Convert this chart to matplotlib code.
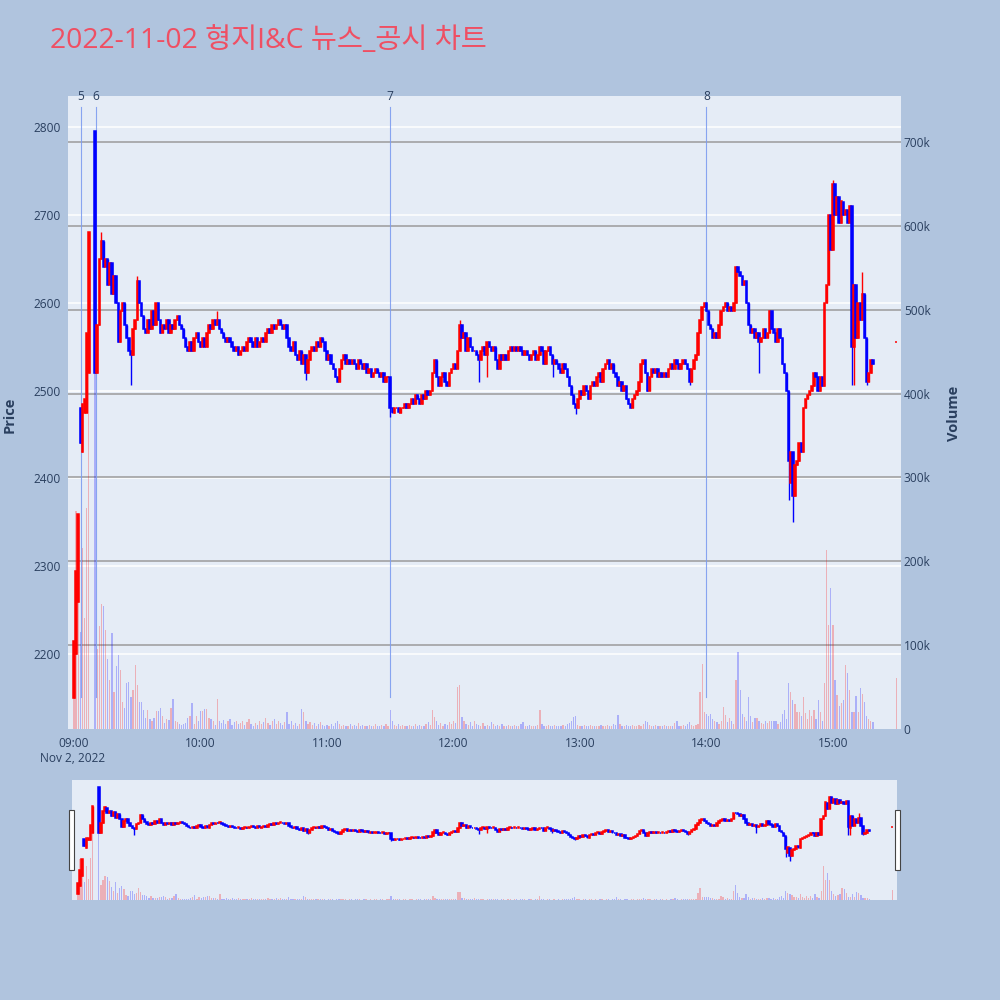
import numpy as np
import pandas as pd
import matplotlib
matplotlib.use("Agg")
import matplotlib.pyplot as plt
import matplotlib.dates as mdates
import matplotlib.transforms as mtransforms
from matplotlib.patches import Rectangle

# ---------------- data ----------------
title = "2022-11-02 형지I&C 뉴스_공시 차트"
session_start = "2022-11-02 09:00"

# per-minute closes 09:00 .. 15:19 (None = trading halt)
closes = [
    2215, 2295, 2360, 2440, 2485, 2490, 2565, 2680, None, None,
    2520, 2575, 2650, 2670, 2640, 2650, 2620, 2645, 2610, 2630,
    2600, 2555, 2590, 2600, 2575, 2560, 2545, 2540, 2570, 2580,
    2625, 2600, 2585, 2570, 2565, 2580, 2570, 2590, 2575, 2600,
    2580, 2565, 2575, 2570, 2580, 2565, 2575, 2570, 2580, 2585,
    2575, 2570, 2560, 2550, 2545, 2555, 2545, 2560, 2565, 2555,
    2550, 2560, 2550, 2565, 2575, 2570, 2580, 2575, 2580, 2570,
    2565, 2560, 2555, 2560, 2555, 2550, 2545, 2550, 2540, 2545,
    2550, 2545, 2555, 2560, 2555, 2550, 2560, 2550, 2555, 2560,
    2555, 2565, 2570, 2565, 2575, 2570, 2575, 2580, 2575, 2570,
    2575, 2560, 2550, 2545, 2555, 2540, 2535, 2545, 2530, 2540,
    2520, 2535, 2545, 2550, 2545, 2555, 2550, 2560, 2555, 2545,
    2535, 2540, 2530, 2525, 2515, 2510, 2525, 2535, 2540, 2530,
    2535, 2530, 2535, 2530, 2525, 2535, 2530, 2525, 2530, 2520,
    2525, 2515, 2520, 2525, 2520, 2515, 2520, 2510, 2515, 2515,
    2480, 2475, 2480, 2480, 2475, 2480, 2480, 2485, 2480, 2485,
    2490, 2485, 2495, 2490, 2485, 2495, 2490, 2500, 2495, 2500,
    2520, 2535, 2515, 2505, 2515, 2520, 2510, 2505, 2520, 2525,
    2530, 2525, 2545, 2575, 2560, 2565, 2545, 2560, 2550, 2545,
    2545, 2540, 2535, 2545, 2550, 2540, 2555, 2550, 2545, 2550,
    2535, 2525, 2540, 2535, 2540, 2535, 2545, 2550, 2545, 2550,
    2545, 2550, 2545, 2540, 2545, 2540, 2535, 2540, 2545, 2535,
    2540, 2550, 2545, 2530, 2545, 2550, 2540, 2530, 2535, 2530,
    2525, 2520, 2530, 2525, 2515, 2505, 2495, 2485, 2480, 2490,
    2500, 2495, 2505, 2500, 2490, 2505, 2510, 2505, 2515, 2520,
    2510, 2525, 2530, 2535, 2525, 2530, 2520, 2515, 2505, 2510,
    2500, 2505, 2490, 2485, 2480, 2490, 2495, 2500, 2510, 2530,
    2535, 2520, 2500, 2515, 2525, 2520, 2525, 2515, 2520, 2515,
    2520, 2515, 2525, 2530, 2525, 2535, 2530, 2525, 2530, 2535,
    2530, 2525, 2510, 2525, 2535, 2540, 2565, 2580, 2595, 2600,
    2590, 2575, 2570, 2560, 2565, 2560, 2575, 2590, 2595, 2600,
    2590, 2595, 2590, 2600, 2640, 2635, 2630, 2620, 2625, 2600,
    2575, 2565, 2570, 2560, 2565, 2555, 2560, 2570, 2560, 2565,
    2590, 2570, 2565, 2555, 2570, 2560, 2530, 2520, 2500, 2420,
    2430, 2380, 2415, 2420, 2440, 2430, 2480, 2490, 2495, 2500,
    2505, 2520, 2515, 2500, 2515, 2505, 2600, 2620, 2700, 2660,
    2735, 2700, 2720, 2690, 2715, 2700, 2705, 2690, 2710, 2550,
    2620, 2560, 2600, 2580, 2610, 2560, 2510, 2520, 2535, 2530,
]

# per-minute volume in thousands of shares
volumes_k = [
    100, 260, 150, 116, 216, 132, 263, 486, 0, 0,
    432, 95, 123, 149, 147, 118, 83, 58, 114, 44,
    75, 88, 70, 32, 25, 55, 56, 38, 46, 76,
    53, 32, 32, 23, 13, 23, 12, 10, 13, 21,
    21, 25, 16, 7, 12, 11, 25, 36, 10, 8,
    6, 5, 6, 7, 13, 16, 31, 6, 16, 10,
    21, 22, 24, 24, 13, 12, 10, 5, 36, 9,
    7, 11, 6, 9, 12, 5, 8, 10, 6, 7,
    9, 5, 8, 12, 6, 4, 7, 5, 9, 6,
    8, 13, 7, 5, 9, 12, 6, 10, 7, 5,
    8, 20, 6, 9, 5, 7, 4, 6, 24, 20,
    9, 6, 8, 5, 7, 4, 6, 8, 5, 3,
    5, 4, 6, 3, 7, 9, 6, 4, 5, 3,
    4, 6, 3, 5, 4, 7, 3, 5, 4, 3,
    5, 3, 4, 6, 3, 4, 5, 3, 6, 4,
    23, 9, 5, 4, 6, 3, 5, 4, 3, 5,
    4, 3, 6, 4, 5, 3, 4, 6, 8, 5,
    23, 14, 9, 5, 7, 4, 6, 5, 8, 6,
    9, 7, 50, 52, 14, 10, 6, 5, 8, 4,
    10, 6, 5, 4, 7, 3, 5, 4, 8, 6,
    4, 5, 3, 6, 4, 3, 5, 4, 3, 5,
    4, 3, 6, 8, 4, 3, 5, 4, 3, 4,
    5, 23, 6, 4, 3, 5, 4, 3, 5, 3,
    4, 3, 5, 4, 6, 7, 9, 14, 16, 5,
    4, 3, 5, 4, 3, 5, 4, 3, 4, 3,
    5, 4, 3, 5, 4, 3, 6, 5, 17, 6,
    4, 3, 5, 4, 3, 5, 4, 3, 5, 4,
    6, 10, 8, 5, 4, 3, 5, 4, 3, 4,
    5, 3, 4, 3, 4, 7, 10, 4, 3, 5,
    4, 6, 8, 5, 4, 5, 6, 44, 78, 20,
    18, 16, 18, 12, 10, 8, 6, 9, 26, 17,
    8, 13, 9, 6, 58, 92, 46, 18, 14, 10,
    38, 16, 8, 13, 13, 9, 7, 6, 10, 7,
    10, 10, 9, 10, 6, 8, 18, 23, 12, 55,
    44, 35, 30, 20, 20, 15, 38, 19, 12, 23,
    15, 23, 12, 35, 20, 10, 55, 213, 124, 168,
    124, 58, 40, 27, 31, 35, 76, 67, 46, 20,
    20, 39, 20, 49, 42, 32, 15, 12, 10, 8,
]

# opens that differ from the previous close, and wick extremes
open_override = {0: 2150, 1: 2200, 2: 2260, 3: 2480, 4: 2430, 5: 2475,
                 6: 2475, 7: 2520, 10: 2795, 340: 2395}
high_override = {13: 2680, 30: 2630, 68: 2590, 183: 2580, 360: 2740, 374: 2635}
low_override = {27: 2506, 110: 2512, 150: 2470, 192: 2510, 196: 2515,
                227: 2515, 238: 2473, 292: 2506, 325: 2520, 339: 2375,
                341: 2350, 369: 2506, 370: 2506, 376: 2506}

auction_time = "2022-11-02 15:30"
auction_price = 2555
auction_volume_k = 61

news_times = ["2022-11-02 09:03:20", "2022-11-02 09:10:25",
              "2022-11-02 11:30", "2022-11-02 14:00"]
news_labels = ["5", "6", "7", "8"]

price_ticks = [2200, 2300, 2400, 2500, 2600, 2700, 2800]
volume_ticks_k = [0, 100, 200, 300, 400, 500, 600, 700]
volume_tick_labels = ["0", "100k", "200k", "300k", "400k", "500k", "600k", "700k"]
hour_ticks = ["09:00", "10:00", "11:00", "12:00", "13:00", "14:00", "15:00"]
date_label = "Nov 2, 2022"

# ---------------- build OHLC ----------------
times = list(pd.date_range(session_start, periods=len(closes), freq="min"))
t_list, o_list, h_list, l_list, c_list, v_list = [], [], [], [], [], []
prev = None
for i, cl in enumerate(closes):
    if cl is None:
        continue
    op = open_override.get(i, prev if prev is not None else cl)
    hi = high_override.get(i, max(op, cl))
    lo = low_override.get(i, min(op, cl))
    t_list.append(times[i]); o_list.append(op); h_list.append(hi)
    l_list.append(lo); c_list.append(cl); v_list.append(volumes_k[i] * 1000)
    prev = cl
t_list.append(pd.Timestamp(auction_time)); o_list.append(auction_price)
h_list.append(auction_price); l_list.append(auction_price)
c_list.append(auction_price); v_list.append(auction_volume_k * 1000)

x = mdates.date2num(pd.DatetimeIndex(t_list).to_pydatetime())
o = np.array(o_list, float); h = np.array(h_list, float)
l = np.array(l_list, float); c = np.array(c_list, float)
v = np.array(v_list, float)

up = np.zeros(len(c), bool)
for i in range(len(c)):
    if c[i] > o[i]:
        up[i] = True
    elif c[i] < o[i]:
        up[i] = False
    else:
        up[i] = True if i == 0 else c[i] >= c[i - 1]

RED, BLUE = "#ff0000", "#0000ff"
cols = np.where(up, RED, BLUE)
vcols = [(1, 0, 0, 0.25) if u else (0, 0, 1, 0.25) for u in up]

# ---------------- figure ----------------
PAPER = "#b0c4de"
PLOT_BG = "#e5ecf6"
TXT = "#2a3f5f"
TICK_PT = 8.6

fig = plt.figure(figsize=(10, 10), dpi=100, facecolor=PAPER)

x0 = mdates.date2num(pd.Timestamp("2022-11-02 08:57:09").to_pydatetime())
x1 = mdates.date2num(pd.Timestamp("2022-11-02 15:32:18").to_pydatetime())
PMIN, PMAX = 2115, 2835
VMAX = 755000
minute = 1.0 / 1440

ax = fig.add_axes([0.068, 0.271, 0.833, 0.633])
ax2 = ax.twinx()
ax.set_zorder(ax2.get_zorder() + 1)
ax.patch.set_visible(False)
ax2.patch.set_visible(True)
ax2.set_facecolor(PLOT_BG)

for a in (ax, ax2):
    for s in a.spines.values():
        s.set_visible(False)
ax.set_xlim(x0, x1)
ax.set_ylim(PMIN, PMAX)
ax2.set_ylim(0, VMAX)

# price gridlines (white) drawn on background axis
blend = mtransforms.blended_transform_factory(ax2.transAxes, ax.transData)
for p in price_ticks:
    ax2.plot([0, 1], [p, p], transform=blend, color="white", lw=1.1, zorder=0.5)
for vt in volume_ticks_k[1:]:
    ax2.axhline(vt * 1000, color="#9b9b9b", lw=1.1, zorder=0.6)

# volume
ax2.bar(x, v, width=0.6 * minute, color=vcols, linewidth=0, zorder=1)

# news lines
nblend = mtransforms.blended_transform_factory(ax.transData, ax.transAxes)
for t, lab in zip(news_times, news_labels):
    xn = mdates.date2num(pd.Timestamp(t).to_pydatetime())
    ax.plot([xn, xn], [0.05, 0.983], transform=nblend, color="#7d9cf0",
            lw=0.8, alpha=0.9, zorder=1)
    ax.text(xn, 1.0, lab, transform=nblend, ha="center", va="center",
            fontsize=TICK_PT, color=TXT, family="Open Sans", clip_on=False)

# candles
def draw_candles(a, bw, elw, wlw):
    a.vlines(x, l, h, colors=cols, linewidth=wlw, zorder=2)
    a.bar(x, c - o, bottom=o, width=bw, color=cols, edgecolor=cols,
          linewidth=elw, zorder=3)

draw_candles(ax, 0.7 * minute, 1.1, 1.0)

# ticks
ax.set_yticks(price_ticks)
ax.set_yticklabels([str(p) for p in price_ticks])
ax2.set_yticks([vt * 1000 for vt in volume_ticks_k])
ax2.set_yticklabels(volume_tick_labels)
xt = [mdates.date2num(pd.Timestamp("2022-11-02 " + hh).to_pydatetime()) for hh in hour_ticks]
ax.set_xticks(xt)
ax.set_xticklabels(hour_ticks)
ax.tick_params(axis="both", length=0, labelsize=TICK_PT, labelcolor=TXT)
ax.tick_params(axis="y", pad=5)
ax.tick_params(axis="x", pad=6)
ax2.tick_params(axis="y", length=0, labelsize=TICK_PT, labelcolor=TXT, pad=2)
for lab in ax.get_xticklabels() + ax.get_yticklabels() + ax2.get_yticklabels():
    lab.set_family("Open Sans")
ax.grid(False); ax2.grid(False)

fig.text(0.073, 1 - 0.758, date_label, ha="center", va="center",
         fontsize=TICK_PT, color=TXT, family="Open Sans")
fig.text(0.010, 1 - 0.415, "Price", rotation=90, ha="center", va="center",
         fontsize=10.5, color=TXT, family="Open Sans", weight="bold")
fig.text(0.954, 1 - 0.413, "Volume", rotation=90, ha="center", va="center",
         fontsize=10.5, color=TXT, family="Open Sans", weight="bold")

fig.text(0.050, 1 - 0.041, title, ha="left", va="center", fontsize=20.4,
         color="#ef4f63", family=["Open Sans", "Noto Sans CJK KR"])

# ---------------- range slider ----------------
srect = [0.072, 0.100, 0.825, 0.120]
sv = fig.add_axes(srect)
sv.set_facecolor(PLOT_BG)
sv.set_xlim(x0, x1); sv.set_ylim(0, VMAX)
sv.bar(x, v, width=0.6 * minute, color=vcols, linewidth=0)
sp = fig.add_axes(srect)
sp.patch.set_visible(False)
sp.set_xlim(x0, x1); sp.set_ylim(PMIN, PMAX)
draw_candles(sp, 0.7 * minute, 1.1, 1.0)
for a in (sv, sp):
    a.set_xticks([]); a.set_yticks([])
    for s in a.spines.values():
        s.set_visible(False)

for hx in (0.0690, 0.8950):
    fig.patches.append(Rectangle((hx, 0.130), 0.0045, 0.060, transform=fig.transFigure,
                                 facecolor="white", edgecolor="#444444", lw=0.8,
                                 zorder=10))

fig.savefig("out.png", dpi=100, facecolor=PAPER)
